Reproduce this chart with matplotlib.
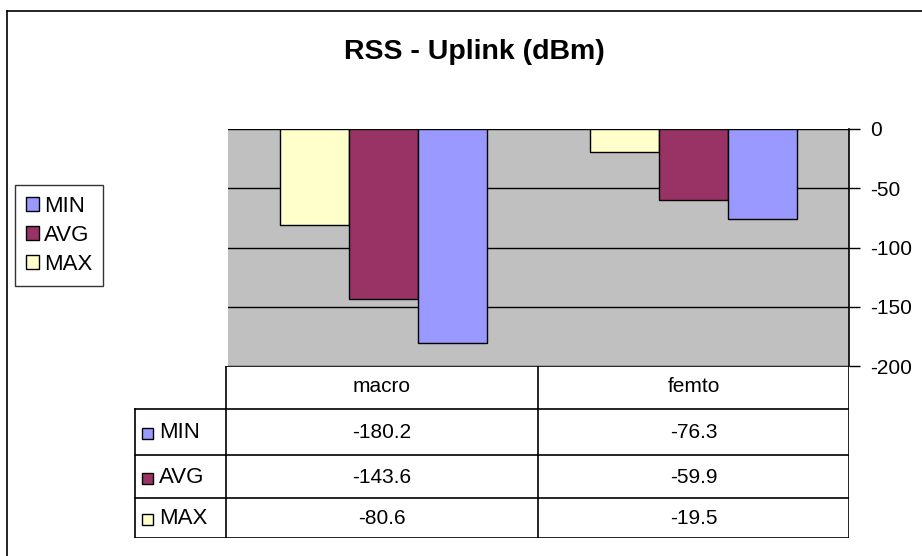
import matplotlib
matplotlib.use("Agg")
import matplotlib.pyplot as plt
from matplotlib.patches import Rectangle, Patch
from matplotlib.lines import Line2D
import numpy as np

plt.rcParams['font.family'] = ['Liberation Sans', 'DejaVu Sans']
plt.rcParams['axes.unicode_minus'] = False

title = "RSS - Uplink (dBm)"
categories = ["macro", "femto"]
series_names = ["MIN", "AVG", "MAX"]
min_vals = [-180.2, -76.3]
avg_vals = [-143.6, -59.9]
max_vals = [-80.6, -19.5]
min_labels = ["-180.2", "-76.3"]
avg_labels = ["-143.6", "-59.9"]
max_labels = ["-80.6", "-19.5"]
yticks = [0, -50, -100, -150, -200]

colors = {"MIN": "#9999FF", "AVG": "#993366", "MAX": "#FFFFCC"}

W, H = 922, 556
FS = 15
fig = plt.figure(figsize=(W / 100, H / 100), dpi=100)

def fx(px):
    return px / W

def fy(py):
    return 1 - py / H

# outer chart border
fig.add_artist(Line2D([fx(7), 1.0], [fy(11), fy(11)], color="black", lw=1.2))
fig.add_artist(Line2D([fx(7), fx(7)], [fy(11), 0.0], color="black", lw=1.2))

# plot area
left, right, top, bottom = 228, 849, 129, 366
ax = fig.add_axes([fx(left), fy(bottom), fx(right) - fx(left), fy(top) - fy(bottom)])
ax.set_facecolor("#C0C0C0")
x = np.arange(len(categories))
bw = 1 / 4.5
order = [("MAX", max_vals), ("AVG", avg_vals), ("MIN", min_vals)]
for i, (name, vals) in enumerate(order):
    ax.bar(x + (i - 1) * bw, vals, width=bw, color=colors[name],
           edgecolor="black", linewidth=1.0, zorder=3)
ax.set_xlim(-0.5, 1.5)
ax.set_ylim(-200, 0)
ax.set_yticks(yticks)
ax.yaxis.tick_right()
ax.tick_params(axis="y", direction="out", length=8, width=1, labelsize=FS, pad=7)
ax.set_xticks([])
for v in yticks:
    ax.axhline(v, color="black", lw=1.0, zorder=2)
for s in ["left", "bottom", "top"]:
    ax.spines[s].set_visible(False)
ax.spines["right"].set_linewidth(1.2)

fig.text(fx(474), fy(52), title, ha="center", va="center",
         fontsize=20.5, fontweight="bold")

# legend
handles = [Patch(facecolor=colors[n], edgecolor="black", linewidth=1.0)
           for n in series_names]
leg = fig.legend(handles, series_names, loc="upper left",
                 bbox_to_anchor=(fx(15), fy(185)), frameon=True,
                 fancybox=False, edgecolor="black", fontsize=FS + 1,
                 handlelength=0.6, handleheight=0.6, handletextpad=0.2,
                 labelspacing=0.35, borderpad=0.5, borderaxespad=0.0)
leg.get_frame().set_linewidth(1.0)

# data table
tl, tr, tt, tb = 134, 849, 366, 538
tax = fig.add_axes([fx(tl), fy(tb), fx(tr) - fx(tl), fy(tt) - fy(tb)])
tax.set_xlim(tl, tr)
tax.set_ylim(tb, tt)
tax.axis("off")
col_x = [226, 538, 849]
row_y = [366, 409, 455, 498, 538]
lk = dict(color="black", lw=1.2, solid_capstyle="projecting")
tax.plot([col_x[0], col_x[0]], [row_y[0], row_y[-1]], **lk)
tax.plot([col_x[1], col_x[1]], [row_y[0], row_y[-1]], **lk)
tax.plot([col_x[2], col_x[2]], [row_y[0], row_y[-1]], **lk)
tax.plot([tl + 1, tl + 1], [row_y[1], row_y[-1]], **lk)
tax.plot([col_x[0], col_x[2]], [row_y[0], row_y[0]], **lk)
for yy in row_y[1:]:
    tax.plot([tl + 1, col_x[2]], [yy, yy], **lk)
for j, c in enumerate(categories):
    tax.text((col_x[j] + col_x[j + 1]) / 2, (row_y[0] + row_y[1]) / 2 - 1, c,
             ha="center", va="center", fontsize=FS)
rows = [("MIN", min_labels), ("AVG", avg_labels), ("MAX", max_labels)]
for i, (name, labs) in enumerate(rows):
    yc = (row_y[i + 1] + row_y[i + 2]) / 2 + 1
    tax.add_patch(Rectangle((142, yc - 5), 11, 11, facecolor=colors[name],
                            edgecolor="black", lw=1.0))
    tax.text(159, yc, name, ha="left", va="center", fontsize=FS + 1)
    for j, lab in enumerate(labs):
        tax.text((col_x[j] + col_x[j + 1]) / 2, yc, lab,
                 ha="center", va="center", fontsize=FS)

fig.savefig("out.png", dpi=100)
